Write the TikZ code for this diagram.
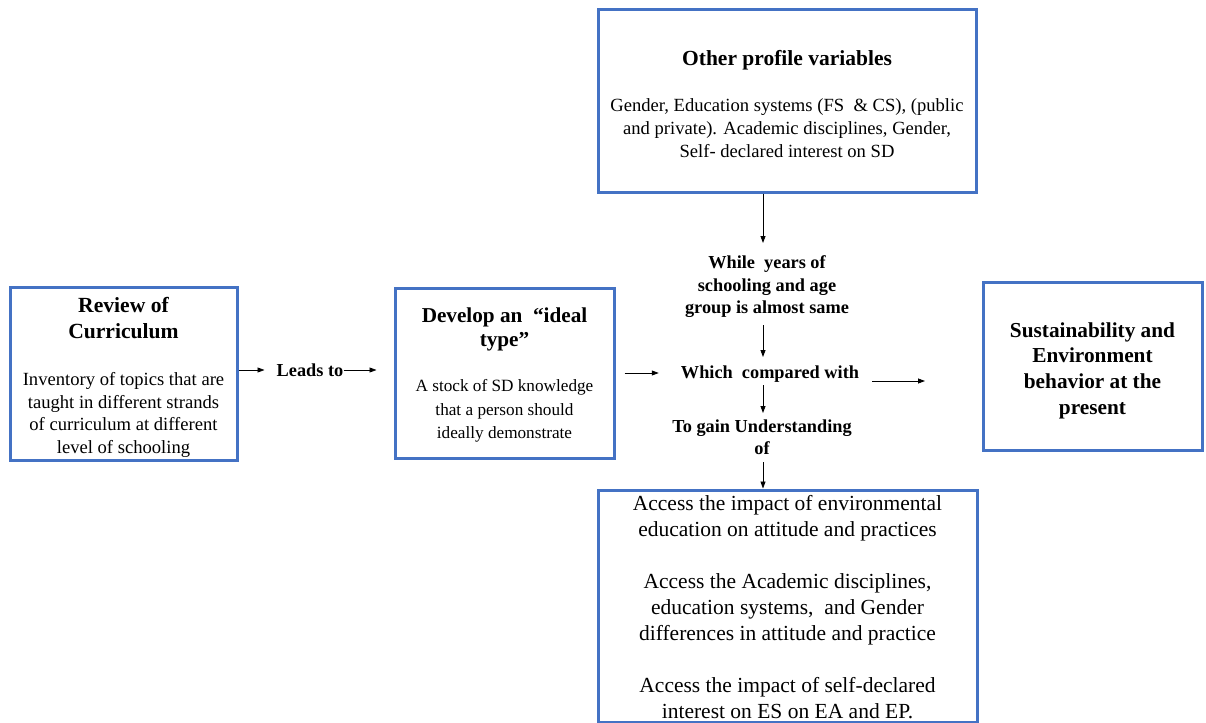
\documentclass[tikz,border=0pt]{standalone}
\usepackage{fontspec}
\setmainfont{Liberation Serif}
\usetikzlibrary{arrows.meta}
\definecolor{boxblue}{HTML}{4472C4}
% a bold heading block and a plain text block, each set as its own paragraph
\newcommand\headblock[3]{{\fontsize{#1}{#2}\selectfont\bfseries #3\par}}
\newcommand\textblock[3]{{\fontsize{#1}{#2}\selectfont #3\par}}
\begin{document}
\begin{tikzpicture}[x=1pt,y=-1pt,
  frame/.style={draw=boxblue,line width=3pt,inner sep=0pt,align=center},
  note/.style={inner sep=0pt,align=center,font=\fontsize{18.3}{22.5}\selectfont\bfseries},
  link/.style={line width=0.8pt,-{Triangle[length=7pt,width=5pt]}}]
\useasboundingbox (0,0) rectangle (1206,722);
% boxes
\node[frame,minimum width=378pt,minimum height=182pt] (prof) at (787,101)
  {\parbox{374pt}{\centering\vspace*{6pt}
   \headblock{21.5}{24}{Other profile variables}\vspace{23pt}
   \textblock{18.6}{23}{Gender, Education systems (FS \ \& CS), (public\\
   and private). Academic disciplines, Gender,\\ Self- declared interest on SD}}};
\node[frame,minimum width=227pt,minimum height=173pt] (rev) at (123.5,373.5)
  {\parbox{223pt}{\centering\vspace*{8pt}
   \headblock{21.6}{26}{Review of\\ Curriculum}\vspace{24.5pt}
   \textblock{18.6}{22.5}{Inventory of topics that are\\ taught in different strands\\
   of curriculum at different\\ level of schooling}}};
\node[frame,minimum width=219pt,minimum height=170pt] (dev) at (504.5,373)
  {\parbox{215pt}{\centering\vspace*{4pt}
   \headblock{21.2}{24}{Develop an \ “ideal\\ type”}\vspace{21.5pt}
   \textblock{17.2}{23.5}{A stock of SD knowledge\\ that a person should\\ ideally demonstrate}}};
\node[frame,minimum width=219pt,minimum height=168pt,
      font=\fontsize{21.3}{25.7}\selectfont\bfseries] (sus) at (1092.5,366)
  {\vphantom{Ty}\\[-16pt]Sustainability and\\ Environment\\ behavior at the\\ present};
\node[frame,minimum width=379pt,minimum height=232pt,
      font=\fontsize{21.5}{26}\selectfont] (acc) at (787.5,606)
  {\vphantom{Ty}\\[-22pt]Access the impact of environmental\\ education on attitude and practices\\[26pt]
   Access the Academic disciplines,\\ education systems, \ and Gender\\ differences in attitude and practice\\[26pt]
   Access the impact of self-declared\\ interest on ES on EA and EP.};
% labels between the boxes
\node[note] (lead) at (310,370) {Leads to};
\node[note] (while) at (767,287) {While \ years of\\ schooling and age\\ group is almost same};
\node[note] (comp) at (770,374) {Which \ compared with};
\node[note] (gain) at (762,437) {To gain Understanding\\ of};
% connectors
\coordinate (r1) at (872,381);
\coordinate (r2) at (925,381);
\coordinate (d1) at (763,243);
\coordinate (d2) at (763,325);
\coordinate (d3) at (763,357);
\coordinate (d4) at (763,385);
\coordinate (d5) at (763,413);
\coordinate (d6) at (763,462);
\draw[link] (rev.east |- lead) -- ([xshift=-12pt]lead.west);
\draw[link] (lead.east) -- ([xshift=-17pt]dev.west |- lead);
\draw[link] ([xshift=9pt]dev.east) -- ([xshift=-22pt]comp.west |- dev.east);
\draw[link] (r1) -- (r2);
\draw[link] (prof.south -| d1) -- (d1);
\draw[link] (d2) -- (d3);
\draw[link] (d4) -- (d5);
\draw[link] (d6) -- (acc.north -| d6);
\end{tikzpicture}
\end{document}
